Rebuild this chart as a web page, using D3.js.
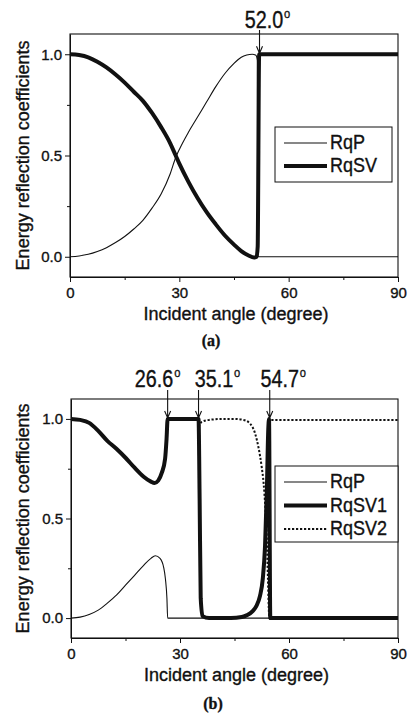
<!DOCTYPE html>
<html>
<head>
<meta charset="utf-8">
<script src="https://cdn.jsdelivr.net/npm/d3@7"></script>
<style>
  body { margin: 0; background: #fff; }
  svg { display: block; font-family: "Liberation Sans", Arial, sans-serif; }
  svg text { stroke: #111; stroke-width: 0.35px; }
</style>
</head>
<body>
<svg id="chart" width="409" height="714"></svg>
<script>
// panel (a)
const angleA_P = [0, 2.5, 5, 7.5, 10, 12.5, 15, 17.5, 20, 22.5, 25, 27.5, 29, 30, 32.5, 35, 37.5, 40, 42.5, 45, 47, 48.5, 50, 51, 51.4, 51.6, 60, 75, 90];
const rqpA = [0, 0.004, 0.012, 0.026, 0.045, 0.07, 0.1, 0.137, 0.18, 0.24, 0.31, 0.41, 0.49, 0.53, 0.615, 0.69, 0.765, 0.84, 0.905, 0.955, 0.985, 0.996, 1.0, 0.995, 0.97, 0, 0, 0, 0];
const angleA_SV = [0, 2.5, 5, 7.5, 10, 12.5, 15, 17.5, 20, 22.5, 25, 27.5, 29, 30, 32.5, 35, 37.5, 40, 42.5, 45, 47, 49, 50.5, 51.2, 51.5, 51.9, 60, 75, 90];
const rqsvA = [1, 0.996, 0.985, 0.963, 0.935, 0.9, 0.86, 0.815, 0.77, 0.71, 0.64, 0.56, 0.5, 0.46, 0.37, 0.29, 0.22, 0.16, 0.105, 0.06, 0.028, 0.006, -0.004, 0, 0.05, 1, 1, 1, 1];

// panel (b)
const angleB_P = [0, 2.5, 5, 7.5, 10, 12.5, 15, 17.5, 20, 22, 23.2, 24.5, 25.5, 26, 26.4, 26.6, 40, 60, 90];
const rqpB = [0, 0.005, 0.018, 0.04, 0.075, 0.115, 0.165, 0.215, 0.265, 0.3, 0.313, 0.3, 0.255, 0.195, 0.1, 0, 0, 0, 0];
const angleB_SV1 = [0, 2.5, 5, 7.5, 10, 12.5, 15, 17.5, 20, 22, 23, 24, 25, 25.9, 26.3, 26.6, 35.1, 35.4, 35.7, 36.2, 38, 44, 47, 48.5, 50, 51, 52, 52.8, 53.4, 53.9, 54.3, 54.5, 54.85, 60, 90];
const rqsv1B = [1, 0.995, 0.98, 0.94, 0.89, 0.85, 0.805, 0.755, 0.71, 0.685, 0.678, 0.69, 0.73, 0.8, 0.9, 1, 1, 0.6, 0.1, 0.01, 0, 0, 0.005, 0.015, 0.035, 0.06, 0.11, 0.2, 0.36, 0.64, 0.95, 1, 0, 0, 0];
const angleB_SV2 = [35.1, 36, 38, 42, 45, 47.5, 49.3, 50.7, 51.6, 52.5, 53, 53.5, 53.9, 54.2, 54.5, 54.6, 54.75, 60, 75, 90];
const rqsv2B = [0.96, 0.985, 0.995, 1, 1, 0.995, 0.976, 0.925, 0.857, 0.757, 0.68, 0.55, 0.4, 0.2, 0.02, 0, 0.995, 0.995, 0.995, 0.995];

// axes, ticks, critical angles
const xTicks = [0, 30, 60, 90];
const xMinor = [15, 45, 75];
const yTicks = [0, 0.5, 1.0];
const yMinor = [0.25, 0.75];
const marksA = [52.0];
const marksB = [26.6, 35.1, 54.7];

const svg = d3.select("#chart");
const ink = "#111";

function pairs(xs, ys) {
  return xs.map((x, i) => ({ x, y: ys[i] }));
}

const styles = {
  thin: { width: 1.1, dash: null },
  thick: { width: 4, dash: null },
  dotted: { width: 2, dash: "2.2,1.8" },
};

function drawPanel(cfg) {
  const x = d3.scaleLinear().domain([0, 90]).range([cfg.left, cfg.right]);
  const y = d3.scaleLinear().domain([-0.1, 1.1]).range([cfg.bottom, cfg.top]);
  const g = svg.append("g");

  // bottom axis, major + minor
  const xAxis = g.append("g")
    .attr("transform", `translate(0,${cfg.bottom})`)
    .call(d3.axisBottom(x).tickValues(xTicks).tickSize(5).tickPadding(5).tickSizeOuter(0));
  g.append("g")
    .attr("transform", `translate(0,${cfg.bottom})`)
    .call(d3.axisBottom(x).tickValues(xMinor).tickSize(3).tickFormat("").tickSizeOuter(0))
    .select(".domain").remove();

  const yAxis = g.append("g")
    .attr("transform", `translate(${cfg.left},0)`)
    .call(d3.axisLeft(y).tickValues(yTicks).tickSize(5).tickPadding(3).tickFormat(d3.format(".1f")).tickSizeOuter(0));
  g.append("g")
    .attr("transform", `translate(${cfg.left},0)`)
    .call(d3.axisLeft(y).tickValues(yMinor).tickSize(3).tickFormat("").tickSizeOuter(0))
    .select(".domain").remove();

  g.selectAll(".tick line").attr("stroke", ink).attr("stroke-width", 1);
  g.selectAll(".domain").attr("stroke", ink);
  [xAxis, yAxis].forEach((a) =>
    a.selectAll("text").attr("fill", ink).attr("font-size", 15).attr("font-family", "Liberation Sans, Arial, sans-serif")
  );

  g.append("rect")
    .attr("x", cfg.left).attr("y", cfg.top)
    .attr("width", cfg.right - cfg.left).attr("height", cfg.bottom - cfg.top)
    .attr("fill", "none").attr("stroke", ink).attr("stroke-width", 1.1);

  // axis titles
  g.append("text")
    .attr("x", (cfg.left + cfg.right) / 2 + 2)
    .attr("y", cfg.bottom + 43)
    .attr("text-anchor", "middle")
    .attr("font-size", 18)
    .attr("fill", ink)
    .text("Incident angle (degree)");

  g.append("text")
    .attr("transform", `translate(23,${(cfg.top + cfg.bottom) / 2}) rotate(-90)`)
    .attr("dy", "0.35em")
    .attr("text-anchor", "middle")
    .attr("font-size", 18)
    .attr("fill", ink)
    .text("Energy reflection coefficients");

  // curves
  const line = d3.line()
    .x((d) => x(d.x))
    .y((d) => y(d.y))
    .curve(d3.curveMonotoneX);

  const plot = g.append("g");
  cfg.series.forEach((s) => {
    const st = styles[s.style];
    plot.append("path")
      .datum(pairs(s.xs, s.ys))
      .attr("fill", "none")
      .attr("stroke", ink)
      .attr("stroke-width", st.width)
      .attr("stroke-dasharray", st.dash)
      .attr("stroke-linejoin", "round")
      .attr("d", line);
  });

  // critical angle markers
  cfg.marks.forEach((m, i) => {
    const mx = x(m);
    const tipY = y(1) - 1;
    g.append("path")
      .attr("d", `M${mx},${cfg.arrowTop} L${mx},${tipY} M${mx - 3},${tipY - 7} L${mx},${tipY} L${mx + 3},${tipY - 7}`)
      .attr("fill", "none")
      .attr("stroke", ink)
      .attr("stroke-width", 1.1);
    const t = g.append("text")
      .attr("transform", `translate(${mx + cfg.markShift[i]},${cfg.markY}) scale(0.86,1)`)
      .attr("text-anchor", "middle")
      .attr("font-size", 23)
      .attr("fill", ink);
    t.append("tspan").text(m.toFixed(1));
    t.append("tspan").attr("font-size", 13).attr("dy", -10).attr("dx", 1).text("o");
  });

  // legend
  const lb = cfg.legend;
  const leg = g.append("g");
  leg.append("rect")
    .attr("x", lb.x).attr("y", lb.y).attr("width", lb.w).attr("height", lb.h)
    .attr("fill", "#fff").attr("stroke", ink).attr("stroke-width", 1);
  cfg.series.forEach((s, i) => {
    const st = styles[s.style];
    const by = lb.firstBase + i * lb.step;
    leg.append("line")
      .attr("x1", lb.x + 9).attr("x2", lb.x + 52)
      .attr("y1", by - 6).attr("y2", by - 6)
      .attr("stroke", ink)
      .attr("stroke-width", st.width)
      .attr("stroke-dasharray", st.dash);
    leg.append("text")
      .attr("transform", `translate(${lb.x + 55},${by}) scale(0.9,1)`)
      .attr("font-size", 20)
      .attr("fill", ink)
      .text(s.label);
  });

  // panel letter
  g.append("text")
    .attr("x", cfg.letterX)
    .attr("y", cfg.letterY)
    .attr("text-anchor", "middle")
    .attr("font-family", "Liberation Serif, Times New Roman, serif")
    .attr("font-weight", "bold")
    .attr("font-size", 16)
    .attr("fill", ink)
    .text(cfg.letter);
}

drawPanel({
  left: 70, right: 398, top: 34, bottom: 277,
  series: [
    { label: "RqP", style: "thin", xs: angleA_P, ys: rqpA },
    { label: "RqSV", style: "thick", xs: angleA_SV, ys: rqsvA },
  ],
  marks: marksA, markShift: [8], markY: 28, arrowTop: 30,
  legend: { x: 275, y: 127, w: 117, h: 55, firstBase: 149, step: 23 },
  letter: "(a)", letterX: 211, letterY: 346,
});

drawPanel({
  left: 71, right: 398, top: 399, bottom: 638,
  series: [
    { label: "RqP", style: "thin", xs: angleB_P, ys: rqpB },
    { label: "RqSV1", style: "thick", xs: angleB_SV1, ys: rqsv1B },
    { label: "RqSV2", style: "dotted", xs: angleB_SV2, ys: rqsv2B },
  ],
  marks: marksB, markShift: [-10, 19, 13.5], markY: 387, arrowTop: 390,
  legend: { x: 275, y: 466, w: 123, h: 76, firstBase: 488, step: 23.5 },
  letter: "(b)", letterX: 213, letterY: 709,
});
</script>
</body>
</html>
